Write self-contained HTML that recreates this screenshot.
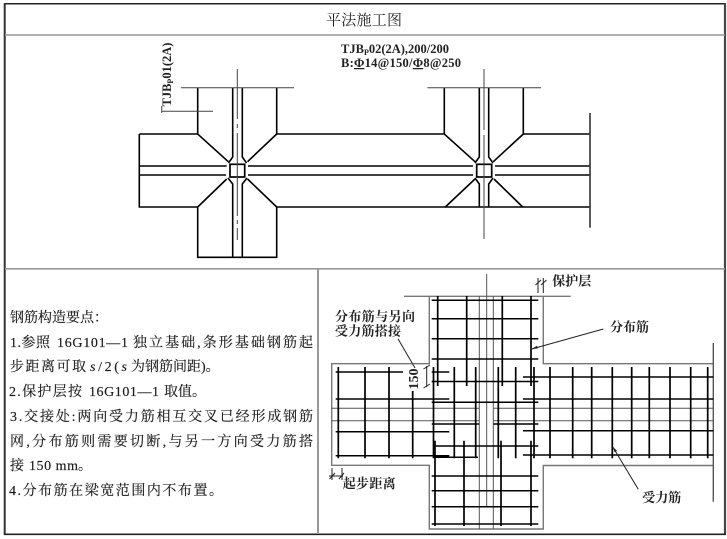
<!DOCTYPE html>
<html><head><meta charset="utf-8"><style>
html,body{margin:0;padding:0;background:#fff;width:727px;height:539px;overflow:hidden}
svg{display:block}
text{font-family:"Liberation Serif","Noto Serif CJK SC",serif;fill:#222}
.cn{font-family:"Liberation Serif","Noto Serif CJK SC",serif;font-size:14px;fill:#1a1a1a;stroke:#1a1a1a;stroke-width:0.15px}
.lb{font-family:"Liberation Serif","Noto Serif CJK SC",serif;font-size:13px;font-weight:700;fill:#222}
.en{font-family:"Liberation Serif","Noto Serif CJK SC",serif;font-size:12.5px;font-weight:700;fill:#222}
</style></head><body>
<svg width="727" height="539" viewBox="0 0 727 539" xmlns="http://www.w3.org/2000/svg">
<!-- frame -->
<g fill="none">
<path d="M4 3.7H726" stroke="#222" stroke-width="1.5"/>
<path d="M4.7 3V535" stroke="#333" stroke-width="2"/>
<path d="M725 3V535" stroke="#444" stroke-width="2.2"/>
<path d="M4 534.3H726" stroke="#222" stroke-width="1.6"/>
<path d="M5 35H725M5 268.8H725" stroke="#999" stroke-width="1.6"/>
<path d="M318 269V534" stroke="#999" stroke-width="2"/>
</g>
<text x="326" y="25" font-size="15" textLength="76" fill="#222">平法施工图</text>

<!-- plan drawing -->
<g fill="none" stroke="#000" stroke-width="1.6">
<path d="M139.3 134H197.7L228.3 161.7M276.7 134H444.3L475 161.7M523.3 134H590"/>
<path d="M276.7 134L247.5 161.7M523.3 134L493.3 161.7"/>
<path d="M197.7 88V134M276.7 88V134M444.3 88V134M523.3 88V134"/>
<path d="M139.3 134V207H197.7V257.3H276.7V207H590"/>
<path d="M197.7 207L226.7 179M276.7 207L247.5 179M445.3 207L475 179M522.7 207L494 179"/>
<path d="M139.3 166H226.7M139.3 175H226M248 166H473M248 175H473M495 166H590M495 175H590"/>
<path d="M232.7 88V157L228.5 163M242.3 88V157L246.5 163M232.7 257.3V184L228 178M242.3 257.3V184L247 178"/>
<path d="M479.3 88V157L475 163M488.7 88V157L493 163M479.3 207V184L475 178M488.7 207V184L493 178"/>
<rect x="230" y="164.3" width="14.7" height="12.7" stroke-width="1.7"/>
<rect x="476.7" y="164.3" width="15" height="12.7" stroke-width="1.7"/>
<path d="M590 113V227.7" stroke="#333"/>
</g>
<g fill="none" stroke="#444" stroke-width="1">
<path d="M181 87.7H294M427.3 87.7H541"/>
<path d="M237.3 69V119M237.3 124V128M237.3 133V216M237.3 220V224M237.3 228V240"/>
<path d="M484 69V130M484 135V239"/>
<path d="M161.7 106V113M161.7 111.3H213"/>
</g>
<text class="en" transform="translate(171 106.5) rotate(-90)">TJB<tspan font-size="8" dy="2">P</tspan><tspan dy="-2">01(2A)</tspan></text>
<text class="en" x="341" y="53">TJB<tspan font-size="8" dy="2">P</tspan><tspan dy="-2">02(2A),200/200</tspan></text>
<text class="en" x="341" y="67" textLength="120">B:<tspan text-decoration="underline">Φ</tspan>14@150/<tspan text-decoration="underline">Φ</tspan>8@250</text>

<!-- notes -->
<text class="cn" x="10" y="322" textLength="98">钢筋构造要点：</text>
<text class="cn" x="10" y="347" textLength="40">1.参照</text>
<text class="cn" x="57" y="347" textLength="71">16G101—1</text>
<text class="cn" x="133" y="347" textLength="180">独立基础,条形基础钢筋起</text>
<text class="cn" x="10" y="371" textLength="76">步距离可取</text>
<text class="cn" x="90" y="371" textLength="37"><tspan font-style="italic">s</tspan>/2(<tspan font-style="italic">s</tspan></text>
<text class="cn" x="131" y="371">为钢筋间距)。</text>
<text class="cn" x="9" y="396" textLength="73">2.保护层按</text>
<text class="cn" x="89" y="396" textLength="70">16G101—1</text>
<text class="cn" x="164" y="396">取值。</text>
<text class="cn" x="10" y="421" textLength="303">3.交接处:两向受力筋相互交叉已经形成钢筋</text>
<text class="cn" x="10" y="446" textLength="303">网,分布筋则需要切断,与另一方向受力筋搭</text>
<text class="cn" x="10" y="470">接</text>
<text class="cn" x="29" y="470" textLength="49">150 mm</text>
<text class="cn" x="78" y="470">。</text>
<text class="cn" x="9" y="495" textLength="214">4.分布筋在梁宽范围内不布置。</text>

<!-- rebar: outline -->
<g fill="none" stroke="#777" stroke-width="1.4">
<path d="M404 296.3H570.7"/>
<path d="M429.3 296.3V363.7H331.7V465.3H429.3V529H543.3V465.5H713.3"/>
<path d="M543.3 296.3V363.7H713.3"/>
<path d="M713.3 343V501.7" stroke="#555"/>
</g>
<!-- rebar: thin lines -->
<g fill="none" stroke="#555" stroke-width="1">
<path d="M331.7 408.3H479M331.7 420.7H479M493.5 408.3H713M493.5 420.7H713"/>
<path d="M479.3 296V529M493.3 296V529M486.7 274V506.7"/>
</g>
<!-- rebar: thick -->
<g fill="none" stroke="#000" stroke-width="1.5">
<path d="M431.7 300.3H538.3M431.7 318.7H538.3M431.7 338.7H538.3M431.7 359H538.3M431.7 381.5H538.3M431.7 402.3H538.3M431.7 424H479M493.5 424H538.3M433 446H538.3"/>
<path d="M335.7 372H403M431.7 372H449.3M335.7 399H449.3M335.7 431.7H449.3M335.7 455.7H449.3"/>
<path d="M523 377H713.3M523 399H713.3M523 430.7H713.3M523 455H713.3"/>
<path d="M434 457.3H478M431.7 476H538.3M431.7 490.7H538.3M431.7 506.7H538.3M431.7 524H538.3"/>
</g>
<g fill="none" stroke="#000" stroke-width="1.7">
<path d="M437.7 296V386M466.7 296V386M502.3 296V386M531 296V386"/>
<path d="M338.3 367V458.3M365 367V458.3M389 367V458.3M412.7 391V458.3"/>
<path d="M433.5 367V458.3M454.3 367V458.3M475.7 367V458.3M498.3 367V458.3M515.7 367V458.3"/>
<path d="M534 367V458.3M550 367V458.3M572.7 367V458.3M591.7 367V458.3M612.3 367V458.3M631.7 367V458.3M649.3 367V458.3M670 367V458.3M690.7 367V458.3M707.7 367V458.3"/>
<path d="M435 440.7V526M464 440.7V526M501 440.7V526M531 440.7V526"/>
</g>

<!-- annotations -->
<g fill="none" stroke="#222" stroke-width="1">
<path d="M398 338.7L415 368"/>
<path d="M426.7 366V387M423.5 369L430 365M423.5 388L430 384"/>
<path d="M538 278V293M543.3 278V293M535.5 285L541 280M541 285L546.5 280"/>
<path d="M603.3 329L531.7 349"/>
<path d="M332 468V480M342 468V480M329 476H343M329.5 479L335 473M339 479L344 473"/>
<path d="M638.3 489.3L612.7 446.7"/>
</g>
<path d="M531.7 349L537 345.8L537.8 348.5Z" fill="#222"/>
<path d="M612.7 446.7L617 450.8L614.6 452.2Z" fill="#222"/>
<text class="lb" x="335" y="321" textLength="80">分布筋与另向</text>
<text class="lb" x="335" y="335.5" textLength="66">受力筋搭接</text>
<text class="lb" style="font-size:14px" transform="translate(418 389.5) rotate(-90)">150</text>
<text class="lb" x="552.3" y="285.5" textLength="39">保护层</text>
<text class="lb" x="610" y="331.5" textLength="39">分布筋</text>
<text class="lb" x="342.7" y="488" textLength="53">起步距离</text>
<text class="lb" x="642.3" y="502" textLength="39">受力筋</text>
</svg>
</body></html>
